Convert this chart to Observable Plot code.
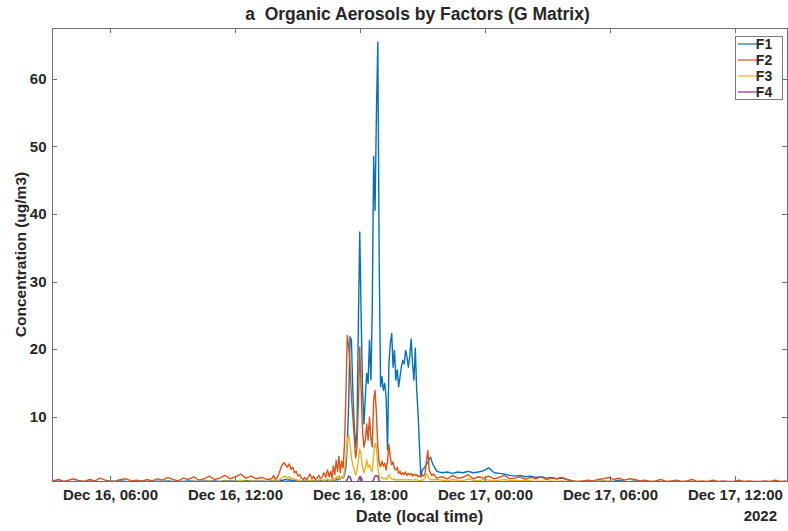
<!DOCTYPE html>
<html>
<head>
<meta charset="utf-8">
<script src="https://cdn.jsdelivr.net/npm/d3@7"></script>
<script src="https://cdn.jsdelivr.net/npm/@observablehq/plot@0.6"></script>
<style>
  html, body { margin: 0; padding: 0; background: #fff; }
  svg text { font-family: "Liberation Sans", Arial, sans-serif; }
</style>
</head>
<body>
<div id="chart"></div>
<script>
// ---- data: minutes since Dec 16 2022 00:00 (local time) ----
const minutes = [
  // 03:15 - 13:30
  195,210,225,240,255,270,285,300,315,330,345,360,375,390,405,420,435,450,465,480,495,510,525,540,555,570,585,600,615,630,645,660,675,690,705,720,735,750,765,780,795,810,
  // 13:45 - 16:25
  825,830,835,840,845,850,855,860,865,870,875,880,885,890,895,900,905,910,915,920,925,930,935,940,945,950,955,960,965,970,975,980,985,
  // 16:30 - 21:30
  990,994,998,1002,1006,1010,1014,1018,1022,1026,1030,1034,1038,1042,1046,1050,1054,1058,1062,1066,1070,1074,1078,1082,1086,1090,1094,1098,1102,1106,1110,1114,1118,1122,1126,1130,1134,1138,1142,1146,1150,1154,1158,1162,1166,1170,1174,1178,1182,1186,1190,1194,1198,1202,1206,1210,1214,1218,1222,1226,1230,1234,1238,1242,1246,1250,1254,1258,1262,1266,1270,1274,1278,1282,1286,1290,
  // 21:40 - Dec 17 14:25
  1300,1315,1330,1345,1360,1375,1390,1405,1420,1435,1450,1465,1480,1495,1510,1525,1540,1555,1570,1585,1600,1615,1630,1645,1660,1675,1690,1705,1720,1735,1750,1765,1780,1795,1810,1825,1840,1855,1870,1885,1900,1915,1930,1945,1960,1975,1990,2005,2020,2035,2050,2065,2080,2095,2110,2125,2140,2155,2170,2185,2200,2215,2230,2245,2260,2275,2290,2305
];

const F1 = [
  0.5,0.55,0.5,0.45,0.5,0.6,0.5,0.55,0.5,0.45, 0.5,0.55,0.5,0.6,0.5,0.45,0.5,0.55,0.5,0.5, 0.55,0.5,0.6,0.5,0.55,0.5,0.6,0.55,0.5,0.6, 0.55,0.6,0.5,0.65,0.6,0.55,0.6,0.65,0.6,0.55, 0.6,0.5,
  0.6,0.55,0.6,0.65,0.6,0.7,0.65,0.75,0.8,0.7, 0.75,0.7,0.65,0.7,0.6,0.65,0.6,0.55,0.6,0.65, 0.6,0.55,0.6,0.65,0.6,0.55,0.6,0.7,0.6,0.65, 0.7,0.6,0.65,
  0.6,0.7,0.5,0.8,0.6,0.9,0.7,1.0,0.8,1.2, 1.0,1.5,2.5,6,12,21.9,21.4,14,9,5.6, 8.0,24,37.4,25,14,9.0,13,16.5,15.0,21.4, 15.5,26,48.6,40.6,54.9,65.5,33,14.5,16.0,14.0, 15.0,13,5.2,18,20.9,22.4,17.4,19.9,15.5,17.0, 14.5,16.0,17.5,18.4,17.9,19.9,18.9,17.4,19,21.6, 17.9,15.5,20.2,14.0,10.5,5.6,1.2,2.2,2.4,2.7, 3.0,3.3,3.8,4.1,3.4,2.9,
  2.0,1.8,1.9,1.7,1.9,1.8,2.0,1.8,1.9,2.1, 2.5,1.8,1.7,1.6,1.4,1.3,1.4,1.2,1.3,1.1, 1.2,1.0,1.1,0.9,1.0,0.8,0.6,0.45,0.4,0.45, 0.4,0.5,0.6,0.45,0.55,0.7,0.5,0.45,0.6,0.4, 0.4,0.35,0.4,0.3,0.35,0.4,0.3,0.35,0.3,0.4, 0.3,0.35,0.3,0.3,0.35,0.3,0.4,0.3,0.35,0.3, 0.3,0.35,0.3,0.3,0.35,0.3,0.3,0.35
];

const F2 = [
  0.6,0.8,0.5,0.7,0.9,0.6,0.5,0.8,0.6,1.0, 0.7,0.5,0.6,0.8,0.9,0.6,0.7,0.5,0.8,0.6, 0.9,0.7,1.1,0.8,0.6,1.0,0.8,1.2,0.7,0.9, 1.3,0.8,1.0,1.4,0.9,1.2,1.6,1.0,1.3,0.9, 1.1,0.8,
  0.9,1.4,0.8,1.1,1.6,2.4,3.0,3.3,2.9,2.6, 3.1,2.3,2.6,1.8,2.0,1.3,1.5,1.0,0.8,1.1, 0.7,1.2,1.6,0.9,1.3,0.8,1.0,1.4,0.9,1.2, 1.8,1.1,2.2,
  1.2,2.0,1.0,2.8,1.5,3.6,2.0,4.2,1.8,3.5, 2.5,6,13,22.1,20.4,17.9,13,10,7,4, 5.6,12,20.4,14,8,5.6,6.6,9,6.6,10, 7,5.6,12.5,14,10.5,5.6,3.1,2.7,3.5,2.8, 3.2,2.2,3.5,6,4,3,3.4,2.4,2.2,2.6, 1.7,2.0,1.5,1.8,1.5,1.9,1.4,1.7,1.5,1.7, 1.3,1.6,1.4,1.5,1.2,1.4,1.2,1.5,1.3,1.7, 3.5,5.1,2.2,1.7,1.4,1.6,
  1.0,1.2,0.9,1.4,1.0,1.1,1.5,0.9,1.2,1.0, 1.3,0.9,1.1,1.4,0.9,1.0,1.2,0.8,1.1,0.9, 1.2,0.8,1.0,0.9,1.1,0.8,0.6,0.5,0.6,0.7, 0.6,0.8,0.9,1.1,0.8,1.0,0.7,0.9,0.8,0.6, 0.7,0.5,0.6,0.8,0.5,0.6,0.7,0.5,0.6,0.8, 0.5,0.6,0.5,0.7,0.5,0.6,0.5,0.5,0.7,0.5, 0.6,0.5,0.5,0.6,0.5,0.7,0.5,0.6
];

const F3 = [
  0.4,0.35,0.45,0.4,0.35,0.4,0.45,0.4,0.35,0.4, 0.45,0.4,0.35,0.4,0.45,0.4,0.4,0.35,0.45,0.4, 0.45,0.4,0.5,0.45,0.4,0.5,0.45,0.55,0.4,0.5, 0.6,0.45,0.5,0.6,0.5,0.55,0.7,0.5,0.6,0.5, 0.55,0.5,
  0.5,0.6,0.5,0.6,0.7,0.9,1.1,1.3,1.2,1.0, 1.2,0.9,1.0,0.8,0.8,0.6,0.7,0.5,0.5,0.6, 0.5,0.6,0.7,0.5,0.6,0.5,0.5,0.6,0.5,0.6, 0.8,0.6,0.9,
  0.6,0.8,0.6,1.0,0.7,1.2,0.9,1.4,0.8,1.2, 1.0,2.0,4.0,6.5,7.4,6.0,4.0,3.0,2.2,1.5, 2.0,3.5,5.3,4.5,2.5,1.8,2.5,3.7,2.6,3.0, 2.2,2.0,4.5,6.2,5.5,2.5,1.2,1.0,1.1,0.9, 1.0,0.8,1.0,1.5,1.1,0.9,0.8,0.9,0.7,0.8, 0.7,0.8,0.7,0.8,0.7,0.8,0.7,0.8,0.7,0.8, 0.7,0.7,0.8,0.7,0.7,0.6,0.6,0.7,0.8,1.0, 1.6,1.4,0.9,0.8,0.7,0.8,
  0.8,0.7,0.6,0.8,0.7,0.6,0.9,0.7,0.6,0.8, 0.7,0.6,0.7,0.8,0.6,0.7,0.6,0.7,0.6,0.5, 0.6,0.5,0.6,0.5,0.6,0.5,0.45,0.4,0.45,0.5, 0.4,0.55,0.5,0.6,0.45,0.5,0.4,0.5,0.45,0.4, 0.4,0.35,0.45,0.4,0.35,0.4,0.45,0.35,0.4,0.35, 0.4,0.45,0.35,0.4,0.35,0.4,0.35,0.4,0.45,0.35, 0.4,0.35,0.4,0.35,0.4,0.45,0.35,0.4
];

const F4 = [
  0.25,0.2,0.25,0.3,0.2,0.25,0.2,0.25,0.3,0.2, 0.25,0.2,0.25,0.2,0.3,0.25,0.2,0.25,0.2,0.25, 0.3,0.2,0.25,0.3,0.25,0.2,0.3,0.25,0.3,0.2, 0.25,0.3,0.25,0.3,0.35,0.25,0.3,0.25,0.3,0.35, 0.3,0.25,
  0.3,0.25,0.3,0.3,0.35,0.4,0.45,0.5,0.45,0.4, 0.45,0.4,0.35,0.3,0.35,0.3,0.3,0.25,0.3,0.3, 0.25,0.3,0.35,0.3,0.25,0.3,0.3,0.35,0.3,0.3, 0.35,0.3,0.35,
  0.3,0.25,0.3,0.3,0.25,0.35,0.3,0.3,0.35,0.3, 0.35,0.4,0.5,0.8,1.3,1.2,0.6,0.4,0.35,0.3, 0.4,0.6,1.2,1.1,0.5,0.4,0.4,0.5,0.4,0.45, 0.4,0.5,0.8,1.3,1.35,1.3,0.6,0.4,0.35,0.3, 0.35,0.3,0.3,0.35,0.3,0.3,0.35,0.3,0.3,0.35, 0.3,0.3,0.35,0.3,0.3,0.35,0.3,0.3,0.35,0.3, 0.3,0.35,0.3,0.3,0.35,0.3,0.3,0.35,0.3,0.3, 0.35,0.3,0.35,0.3,0.3,0.35,
  0.3,0.25,0.3,0.3,0.25,0.3,0.3,0.25,0.3,0.3, 0.25,0.3,0.3,0.25,0.3,0.25,0.3,0.3,0.25,0.3, 0.3,0.25,0.3,0.25,0.3,0.3,0.25,0.3,0.25,0.3, 0.3,0.25,0.3,0.25,0.3,0.3,0.25,0.3,0.25,0.3, 0.25,0.3,0.3,0.25,0.3,0.25,0.3,0.3,0.25,0.3, 0.3,0.25,0.3,0.25,0.3,0.3,0.25,0.3,0.25,0.3, 0.3,0.25,0.3,0.25,0.3,0.3,0.25,0.3
];

const seriesNames = ["F1", "F2", "F3", "F4"];
const seriesColors = ["#0072BD", "#D95319", "#EDB120", "#7E2F8E"];
const xTickTimes = ["2022-12-16T06:00", "2022-12-16T12:00", "2022-12-16T18:00", "2022-12-17T00:00", "2022-12-17T06:00", "2022-12-17T12:00"];
const yTicks = [10, 20, 30, 40, 50, 60];
const xDomain = ["2022-12-16T03:13", "2022-12-17T14:30"];
const yDomain = [0.5, 67.5];
const titleText = "a  Organic Aerosols by Factors (G Matrix)";
const xLabel = "Date (local time)";
const yLabel = "Concentration (ug/m3)";
const yearLabel = "2022";

(function () {
  const base = Date.UTC(2022, 11, 16, 0, 0);
  const toDate = s => new Date(s + ":00Z");
  const values = [F1, F2, F3, F4];
  values.forEach((arr, i) => { if (arr.length !== minutes.length) console.error(seriesNames[i] + " length " + arr.length + " vs " + minutes.length); });
  const series = seriesNames.map((name, i) => minutes.map((m, j) => ({date: new Date(base + m * 60000), value: values[i][j], name})));

  const W = 788, H = 531, mL = 52, mR = 1, mT = 28, mB = 50;
  const ink = "#262626";
  const fontFam = "Liberation Sans, Arial, sans-serif";

  const chart = Plot.plot({
    width: W, height: H,
    marginLeft: mL, marginRight: mR, marginTop: mT, marginBottom: mB,
    style: {fontFamily: fontFam, fontWeight: "bold", fontSize: "15px", color: ink, background: "#fff", overflow: "visible"},
    x: {type: "utc", domain: xDomain.map(toDate), ticks: xTickTimes.map(toDate), tickFormat: d3.utcFormat("%b %d, %H:%M"), tickSize: 0, tickPadding: 8, label: null},
    y: {domain: yDomain, ticks: yTicks, tickSize: 0, tickPadding: 6, label: null},
    color: {domain: seriesNames, range: seriesColors},
    marks: [
      ...series.map(s => Plot.lineY(s, {x: "date", y: "value", stroke: "name", strokeWidth: 1.4, clip: true})),
      Plot.frame({stroke: "#6e6e6e", strokeWidth: 1})
    ]
  });

  document.getElementById("chart").appendChild(chart);

  const svg = d3.select(chart);
  const sx = chart.scale("x"), sy = chart.scale("y");
  const pL = mL, pR = W - mR, pT = mT, pB = H - mB;
  const tl = 5;
  const tg = svg.append("g").attr("stroke", "#6e6e6e").attr("stroke-width", 1);
  xTickTimes.map(toDate).forEach(t => {
    const x = Math.round(sx.apply(t)) + 0.5;
    tg.append("line").attr("x1", x).attr("x2", x).attr("y1", pB).attr("y2", pB - tl);
    tg.append("line").attr("x1", x).attr("x2", x).attr("y1", pT).attr("y2", pT + tl);
  });
  yTicks.forEach(v => {
    const y = Math.round(sy.apply(v)) + 0.5;
    tg.append("line").attr("x1", pL).attr("x2", pL + tl).attr("y1", y).attr("y2", y);
    tg.append("line").attr("x1", pR).attr("x2", pR - tl).attr("y1", y).attr("y2", y);
  });

  const txt = (x, y, s, size, anchor) => svg.append("text")
    .attr("x", x).attr("y", y).text(s)
    .attr("font-family", fontFam).attr("font-weight", "bold").attr("font-size", size)
    .attr("fill", ink).attr("text-anchor", anchor).style("white-space", "pre");

  txt((pL + pR) / 2 - 2, 19.5, titleText, 17.5, "middle");
  txt((pL + pR) / 2, 521.5, xLabel, 16.5, "middle");
  txt(777, 520.5, yearLabel, 15, "end");
  svg.append("text").text(yLabel)
    .attr("transform", `translate(25.5,${(pT + pB) / 2}) rotate(-90)`)
    .attr("font-family", fontFam).attr("font-weight", "bold").attr("font-size", 15.5)
    .attr("fill", ink).attr("text-anchor", "middle");

  const lg = svg.append("g");
  lg.append("rect").attr("x", 735.5).attr("y", 36.5).attr("width", 47).attr("height", 63)
    .attr("fill", "#fff").attr("stroke", "#7a7a7a").attr("stroke-width", 1);
  seriesNames.forEach((name, i) => {
    const y = 44 + i * 16;
    lg.append("line").attr("x1", 738).attr("x2", 762).attr("y1", y).attr("y2", y)
      .attr("stroke", seriesColors[i]).attr("stroke-width", 1.2);
    lg.append("text").attr("x", 764).attr("y", y + 5).text(name)
      .attr("font-family", fontFam).attr("font-weight", "bold").attr("font-size", 14).attr("fill", ink);
  });
})();
</script>
</body>
</html>
